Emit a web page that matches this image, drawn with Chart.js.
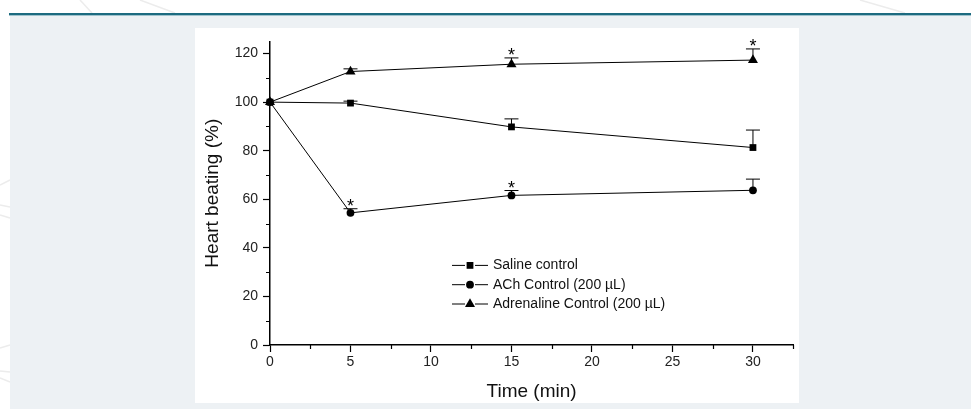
<!DOCTYPE html>
<html>
<head>
<meta charset="utf-8">
<script src="https://cdn.jsdelivr.net/npm/chart.js@4.4.1/dist/chart.umd.min.js"></script>
<style>
  html, body { margin: 0; padding: 0; background: #fff; }
  body { width: 971px; height: 409px; position: relative; overflow: hidden; font-family: "Liberation Sans", Arial, sans-serif; }
  #deco { position: absolute; left: 0; top: 0; }
  #band { position: absolute; left: 9px; top: 13px; right: 0; height: 2px; background: #1d6b80; }
  #band2 { position: absolute; left: 9px; top: 15px; right: 0; height: 1px; background: #9fc3cd; }
  #page { position: absolute; left: 10px; top: 16px; right: 0; bottom: 0; background: #edf1f4; }
  #panel { position: absolute; left: 195px; top: 28px; width: 604px; height: 375px; background: #fff; }
</style>
</head>
<body>
<svg id="deco" width="971" height="409">
  <g stroke="#ececec" stroke-width="1.5" fill="none">
    <line x1="80" y1="0" x2="92" y2="13"/>
    <line x1="140" y1="0" x2="175" y2="13"/>
    <line x1="860" y1="0" x2="905" y2="13"/>
    <line x1="0" y1="185" x2="10" y2="180"/>
    <line x1="0" y1="205" x2="10" y2="207"/>
    <line x1="0" y1="215" x2="10" y2="218"/>
    <line x1="0" y1="348" x2="10" y2="345"/>
    <line x1="0" y1="371" x2="10" y2="372"/>
    <line x1="0" y1="378" x2="10" y2="382"/>
  </g>
</svg>
<div id="band"></div>
<div id="band2"></div>
<div id="page"></div>
<div id="panel"><canvas id="grafico"></canvas></div>
<script>
const tempos = [0, 5, 15, 30];

const salina = [100, 99.6, 89.8, 81.3];
const salinaErro = [0, 0.8, 3.3, 7.2];

const ach = [100, 54.4, 61.6, 63.7];
const achErro = [0, 1.7, 2.0, 4.6];
const achEstrela = [false, true, true, false];

const adrenalina = [100, 112.6, 115.6, 117.3];
const adrenalinaErro = [0, 1.1, 2.6, 4.6];
const adrenalinaEstrela = [false, false, true, true];

const rotulos = ['Saline control', 'ACh Control (200 \u00b5L)', 'Adrenaline Control (200 \u00b5L)'];

const FONTE = "'Liberation Sans', Arial, sans-serif";

function pontos(valores) {
    return tempos.map((t, i) => ({ x: t, y: valores[i] }));
}

function criarSerie(label, valores, erros, estrelas, estilo, raio) {
    return {
        label: label,
        data: pontos(valores),
        erros: erros,
        estrelas: estrelas,
        borderColor: '#000',
        borderWidth: 1,
        backgroundColor: '#000',
        pointStyle: estilo,
        pointRadius: raio,
        pointHoverRadius: raio,
        pointBorderWidth: 0,
        tension: 0,
        clip: false
    };
}

// barras de erro (so para cima) e asteriscos
const barrasErro = {
    id: 'barrasErro',
    beforeDatasetsDraw(chart) {
        const { ctx, scales: { x, y } } = chart;
        ctx.save();
        ctx.strokeStyle = '#000';
        ctx.lineWidth = 1;
        chart.data.datasets.forEach(ds => {
            ds.data.forEach((p, j) => {
                const e = ds.erros[j];
                if (!e) return;
                const px = x.getPixelForValue(p.x);
                const py = y.getPixelForValue(p.y);
                const pt = y.getPixelForValue(p.y + e);
                ctx.beginPath();
                ctx.moveTo(px, py);
                ctx.lineTo(px, pt);
                ctx.moveTo(px - 7, pt);
                ctx.lineTo(px + 7, pt);
                ctx.stroke();
            });
        });
        ctx.restore();
    },
    afterDatasetsDraw(chart) {
        const { ctx, scales: { x, y } } = chart;
        ctx.save();
        ctx.fillStyle = '#000';
        ctx.font = '18px ' + FONTE;
        ctx.textAlign = 'center';
        ctx.textBaseline = 'alphabetic';
        chart.data.datasets.forEach(ds => {
            if (!ds.estrelas) return;
            ds.data.forEach((p, j) => {
                if (!ds.estrelas[j]) return;
                const px = x.getPixelForValue(p.x);
                const pt = y.getPixelForValue(p.y + ds.erros[j]);
                ctx.fillText('*', px, pt + 3);
            });
        });
        ctx.restore();
    }
};

// ticks menores nos eixos
const ticksMenores = {
    id: 'ticksMenores',
    afterDraw(chart) {
        const { ctx, chartArea, scales: { x, y } } = chart;
        ctx.save();
        ctx.strokeStyle = '#000';
        ctx.lineWidth = 1.2;
        ctx.beginPath();
        for (let v = 10; v < 125; v += 20) {
            const py = Math.round(y.getPixelForValue(v)) + 0.5;
            ctx.moveTo(chartArea.left, py);
            ctx.lineTo(chartArea.left - 4, py);
        }
        for (let v = 2.5; v <= 32.5; v += 5) {
            const px = Math.round(x.getPixelForValue(v)) + 0.5;
            ctx.moveTo(px, chartArea.bottom);
            ctx.lineTo(px, chartArea.bottom + 4);
        }
        ctx.stroke();
        ctx.restore();
    }
};

// legenda no estilo linha-marcador-linha
const legenda = {
    id: 'legenda',
    afterDraw(chart) {
        const { ctx, chartArea } = chart;
        const x0 = chartArea.left + 182;
        ctx.save();
        ctx.font = '14px ' + FONTE;
        ctx.textBaseline = 'middle';
        chart.data.datasets.forEach((ds, i) => {
            const yy = chartArea.top + 224 + i * 19.3;
            ctx.strokeStyle = '#000';
            ctx.fillStyle = '#000';
            ctx.lineWidth = 1;
            ctx.beginPath();
            ctx.moveTo(x0, yy);
            ctx.lineTo(x0 + 13, yy);
            ctx.moveTo(x0 + 23, yy);
            ctx.lineTo(x0 + 36, yy);
            ctx.stroke();
            Chart.helpers.drawPoint(ctx, { pointStyle: ds.pointStyle, radius: ds.pointRadius, rotation: 0, borderWidth: 0 }, x0 + 18, yy);
            ctx.fillStyle = '#111';
            ctx.fillText(ds.label, x0 + 41, yy);
        });
        ctx.restore();
    }
};

const grafico = new Chart(document.getElementById('grafico'), {
    type: 'line',
    data: {
        datasets: [
            criarSerie(rotulos[0], salina, salinaErro, null, 'rect', 4.8),
            criarSerie(rotulos[1], ach, achErro, achEstrela, 'circle', 3.9),
            criarSerie(rotulos[2], adrenalina, adrenalinaErro, adrenalinaEstrela, 'triangle', 5.8)
        ]
    },
    options: {
        responsive: true,
        maintainAspectRatio: false,
        animation: false,
        events: [],
        layout: { padding: { top: 12, right: 3, left: 0, bottom: 0 } },
        plugins: {
            legend: { display: false },
            tooltip: { enabled: false }
        },
        scales: {
            x: {
                type: 'linear',
                min: 0,
                max: 32.5,
                afterFit: s => { s.height = 58; },
                border: { display: true, color: '#000', width: 1.5 },
                grid: { drawOnChartArea: false, drawTicks: true, tickLength: 7, color: '#000', tickWidth: 1.2 },
                ticks: { stepSize: 5, includeBounds: false, color: '#222', font: { family: FONTE, size: 14 }, padding: 2, maxRotation: 0 },
                title: { display: true, text: 'Time (min)', color: '#111', font: { family: FONTE, size: 19 }, padding: { top: 1, bottom: 0 } }
            },
            y: {
                min: 0,
                max: 125,
                afterFit: s => { s.width = 75; },
                border: { display: true, color: '#000', width: 1.5 },
                grid: { drawOnChartArea: false, drawTicks: true, tickLength: 7, color: '#000', tickWidth: 1.2 },
                ticks: { stepSize: 20, includeBounds: false, color: '#222', font: { family: FONTE, size: 14 }, padding: 5 },
                title: { display: true, text: 'Heart beating (%)', color: '#111', font: { family: FONTE, size: 19 }, padding: { top: 6, bottom: 0 } }
            }
        }
    },
    plugins: [barrasErro, ticksMenores, legenda]
});
</script>
</body>
</html>
